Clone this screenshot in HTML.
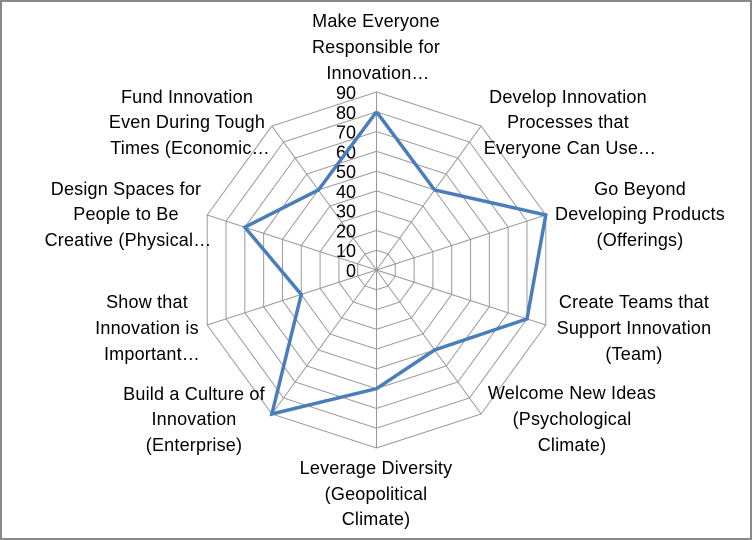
<!DOCTYPE html>
<html><head><meta charset="utf-8"><style>
html,body{margin:0;padding:0;background:#fff}
svg{display:block}
text{font-family:"Liberation Sans",sans-serif;font-size:18px;fill:#000}
.l text{letter-spacing:0.2px}
</style></head><body>
<svg id="s" width="752" height="540" viewBox="0 0 752 540" xmlns="http://www.w3.org/2000/svg">
<rect x="1" y="1" width="750" height="538" fill="#fff" stroke="#888" stroke-width="2"/>
<g id="grid" fill="none" stroke="#999" stroke-width="1"></g>
<g id="ticks" text-anchor="end"></g>
<polyline id="data" fill="none" stroke="#4a7ebb" stroke-width="3.5" stroke-linejoin="miter"/>
<g class="l" text-anchor="middle">
<text x="376" y="27">Make Everyone</text><text x="376" y="53">Responsible for</text><text x="378" y="79">Innovation…</text>
<text x="568" y="103">Develop Innovation</text><text x="568" y="128">Processes that</text><text x="570" y="154">Everyone Can Use…</text>
<text x="640" y="195">Go Beyond</text><text x="640" y="220">Developing Products</text><text x="640" y="246">(Offerings)</text>
<text x="634" y="308">Create Teams that</text><text x="634" y="334">Support Innovation</text><text x="634" y="360">(Team)</text>
<text x="572" y="399">Welcome New Ideas</text><text x="572" y="425">(Psychological</text><text x="572" y="451">Climate)</text>
<text x="376" y="474">Leverage Diversity</text><text x="376" y="500">(Geopolitical</text><text x="376" y="525">Climate)</text>
<text x="194" y="400">Build a Culture of</text><text x="194" y="425">Innovation</text><text x="194" y="451">(Enterprise)</text>
<text x="147" y="308">Show that</text><text x="147" y="334">Innovation is</text><text x="152" y="360">Important…</text>
<text x="126" y="195">Design Spaces for</text><text x="126" y="220">People to Be</text><text x="128" y="246">Creative (Physical…</text>
<text x="187" y="103">Fund Innovation</text><text x="187" y="128">Even During Tough</text><text x="190" y="154">Times (Economic…</text>
</g>
</svg>
<script>
(function(){
var cx=376.5,cy=270,R=178,n=10,ns="http://www.w3.org/2000/svg";
function pt(i,r){var a=i*2*Math.PI/n;return [cx+r*Math.sin(a),cy-r*Math.cos(a)];}
var g=document.getElementById('grid');
for(var k=1;k<=9;k++){var p=[];for(var i=0;i<n;i++){p.push(pt(i,R*k/9).join(','));}
var e=document.createElementNS(ns,'polygon');e.setAttribute('points',p.join(' '));g.appendChild(e);}
for(var i=0;i<n;i++){var q=pt(i,R);var l=document.createElementNS(ns,'line');
l.setAttribute('x1',cx);l.setAttribute('y1',cy);l.setAttribute('x2',q[0]);l.setAttribute('y2',q[1]);g.appendChild(l);}
var t=document.getElementById('ticks');
for(var v=0;v<=90;v+=10){var e=document.createElementNS(ns,'text');e.setAttribute('x',356);
e.setAttribute('y',cy-R*v/90+7);e.textContent=v;t.appendChild(e);}
var vals=[80,50,90,80,50,60,90,40,70,50],p=[];
for(var i=0;i<=n;i++){p.push(pt(i%n,R*vals[i%n]/90).join(','));}
document.getElementById('data').setAttribute('points',p.join(' '));
})();
</script>
</body></html>
